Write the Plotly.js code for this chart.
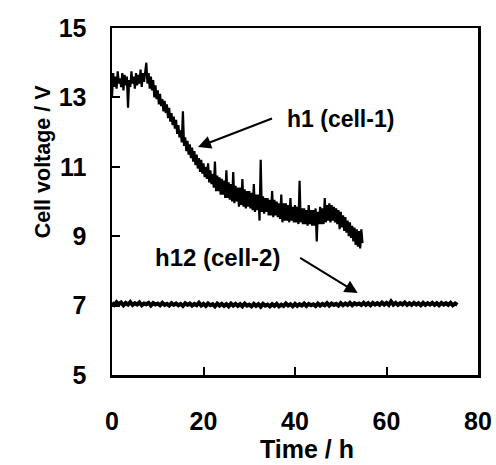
<!DOCTYPE html>
<html>
<head>
<meta charset="utf-8">
<script src="https://cdn.plot.ly/plotly-3.0.1.min.js"></script>
<style>html,body{margin:0;padding:0;background:#fff;}#chart{width:496px;height:465px;}</style>
</head>
<body>
<div id="chart"></div>
<script>
// Sampling of the recorded series (hours)
var h1Start = 0, h1Step = 0.25;
var h12Start = 0, h12Step = 0.5;

// h1 (cell-1) cell voltage / V, one reading every 0.25 h from t = 0 to 54.75 h (8 readings per row = 2 h)
var h1Voltage = [
  13.0, 13.7, 13.3, 13.6, 13.25, 13.75, 13.4, 13.55,
  13.3, 13.7, 13.2, 13.65, 13.35, 13.6, 12.7, 13.5,
  13.3, 13.75, 13.4, 13.6, 13.25, 13.7, 13.35, 13.65,
  13.4, 13.8, 13.3, 13.7, 13.45, 13.85, 14.0, 13.4,
  13.7, 13.25, 13.6, 13.2, 13.5, 13.0, 13.35, 12.95,
  13.2, 12.8, 13.1, 12.75, 12.95, 12.6, 12.9, 12.55,
  12.8, 12.4, 12.7, 12.3, 12.55, 12.2, 12.45, 12.1,
  12.35, 11.95, 12.2, 11.85, 12.05, 11.7, 12.6, 11.6,
  11.85, 11.45, 11.75, 11.35, 11.65, 11.25, 11.55, 11.15,
  11.45, 11.05, 11.35, 10.95, 11.25, 10.85, 11.2, 10.8,
  11.1, 10.7, 11.0, 10.65, 11.1, 10.55, 10.9, 10.5,
  10.8, 10.4, 11.15, 10.3, 10.75, 10.3, 10.7, 10.2,
  10.65, 10.2, 10.6, 10.1, 10.9, 10.1, 10.55, 10.05,
  10.5, 10.0, 10.85, 9.95, 10.45, 10.0, 10.4, 9.85,
  10.4, 9.9, 10.65, 9.85, 10.35, 9.8, 10.3, 9.85,
  10.3, 9.8, 10.25, 9.75, 10.5, 9.7, 10.2, 9.75,
  10.2, 9.45, 11.2, 9.7, 10.15, 9.65, 10.1, 9.7,
  10.1, 9.6, 10.05, 9.6, 10.3, 9.55, 10.05, 9.6,
  10.0, 9.55, 9.95, 9.5, 10.2, 9.4, 9.95, 9.45,
  9.95, 9.45, 9.9, 9.4, 10.1, 9.45, 9.85, 9.4,
  9.9, 9.4, 9.85, 9.35, 10.6, 9.4, 9.8, 9.35,
  9.8, 9.35, 9.75, 9.3, 9.9, 9.35, 9.75, 9.3,
  9.75, 9.3, 9.8, 8.85, 9.7, 9.35, 9.85, 9.35,
  9.8, 9.35, 10.1, 9.4, 9.9, 9.45, 9.95, 9.4,
  9.9, 9.45, 9.85, 9.4, 9.8, 9.35, 9.75, 9.2,
  9.7, 9.25, 9.6, 9.15, 9.55, 9.1, 9.45, 9.0,
  9.4, 8.95, 9.3, 8.85, 9.25, 8.75, 9.2, 8.7,
  9.15, 8.65, 9.2, 8.8
];

// h12 (cell-2) cell voltage / V, one reading every 0.5 h from t = 0 to 75.5 h
var h12Voltage = [
  7.08, 7.02, 7.10, 7.04, 7.09, 7.01, 7.08, 7.03, 7.10, 7.02,
  7.07, 7.03, 7.09, 7.01, 7.06, 7.04, 7.08, 7.00, 7.07, 7.03,
  7.06, 7.01, 7.08, 7.02, 7.05, 7.00, 7.07, 7.02, 7.06, 7.01,
  7.05, 6.99, 7.07, 7.02, 7.06, 7.00, 7.05, 7.01, 7.08, 7.00,
  7.05, 6.99, 7.06, 7.01, 7.04, 6.98, 7.06, 7.00, 7.05, 6.99,
  7.04, 6.98, 7.06, 7.00, 7.05, 6.99, 7.04, 6.98, 7.06, 7.00,
  7.03, 6.98, 7.05, 6.99, 7.04, 6.97, 7.05, 7.00, 7.03, 6.98,
  7.04, 6.99, 7.05, 6.98, 7.03, 6.99, 7.06, 7.00, 7.04, 6.98,
  7.05, 6.99, 7.04, 7.00, 7.06, 6.99, 7.05, 7.01, 7.04, 6.99,
  7.06, 7.00, 7.05, 7.01, 7.07, 7.00, 7.06, 7.02, 7.05, 7.00,
  7.07, 7.01, 7.06, 7.02, 7.08, 7.01, 7.07, 7.03, 7.06, 7.02,
  7.08, 7.02, 7.07, 7.01, 7.08, 7.03, 7.07, 7.02, 7.09, 7.03,
  7.08, 7.02, 7.12, 7.03, 7.08, 7.02, 7.07, 7.03, 7.09, 7.02,
  7.07, 7.02, 7.08, 7.03, 7.07, 7.01, 7.08, 7.02, 7.07, 7.03,
  7.08, 7.02, 7.07, 7.01, 7.08, 7.03, 7.07, 7.02, 7.08, 7.01,
  7.06, 7.02
];

// Axis ticks
var xTickVals = [0, 20, 40, 60, 80];
var xTickText = ['0', '20', '40', '60', '80'];
var yTickVals = [5, 7, 9, 11, 13, 15];
var yTickText = ['5', '7', '9', '11', '13', '15'];

// Labels
var labelH1 = 'h1 (cell-1)';
var labelH12 = 'h12 (cell-2)';
var xTitle = 'Time / h';
var yTitle = 'Cell voltage / V';

var fam = 'Liberation Sans, Arial, Helvetica, sans-serif';

var traces = [
  {
    type: 'scatter', mode: 'lines', name: labelH1,
    x0: h1Start, dx: h1Step, y: h1Voltage,
    line: {color: '#000', width: 2.2}, hoverinfo: 'skip'
  },
  {
    type: 'scatter', mode: 'lines', name: labelH12,
    x0: h12Start, dx: h12Step, y: h12Voltage,
    line: {color: '#000', width: 4}, hoverinfo: 'skip'
  }
];

var layout = {
  width: 496, height: 465,
  margin: {l: 112, r: 18, t: 28, b: 90, pad: 0},
  paper_bgcolor: '#fff', plot_bgcolor: '#fff',
  showlegend: false,
  font: {family: fam, color: '#000'},
  xaxis: {
    range: [0, 80], tickvals: xTickVals, ticktext: xTickText,
    ticks: 'inside', ticklen: 8, tickwidth: 2, tickcolor: '#000',
    showline: true, linewidth: 2.5, linecolor: '#000', mirror: true,
    showgrid: false, zeroline: false,
    tickfont: {family: fam, size: 25, weight: 'bold', color: '#000'},
    ticklabelstandoff: 22
  },
  yaxis: {
    range: [5, 15], tickvals: yTickVals, ticktext: yTickText,
    ticks: 'inside', ticklen: 8, tickwidth: 2, tickcolor: '#000',
    showline: true, linewidth: 2.5, linecolor: '#000', mirror: true,
    showgrid: false, zeroline: false,
    tickfont: {family: fam, size: 25, weight: 'bold', color: '#000'},
    ticklabelstandoff: 18
  },
  annotations: [
    {xref: 'x', yref: 'y', x: 37.9, y: 12.38, xanchor: 'left', yanchor: 'middle',
     text: labelH1, showarrow: false, font: {family: fam, size: 23, weight: 'bold', color: '#000'}},
    {xref: 'x', yref: 'y', x: 9.0, y: 8.4, xanchor: 'left', yanchor: 'middle',
     text: labelH12, showarrow: false, font: {family: fam, size: 24, weight: 'bold', color: '#000'}},
    {xref: 'x', yref: 'y', x: 18.8, y: 11.57, axref: 'x', ayref: 'y', ax: 35.3, ay: 12.41,
     text: '', showarrow: true, arrowhead: 2, arrowsize: 1.3, arrowwidth: 2, arrowcolor: '#000'},
    {xref: 'x', yref: 'y', x: 53.7, y: 7.36, axref: 'x', ayref: 'y', ax: 40.8, ay: 8.4,
     text: '', showarrow: true, arrowhead: 2, arrowsize: 1.3, arrowwidth: 2, arrowcolor: '#000'},
    {xref: 'paper', yref: 'paper', x: 0.534, y: -0.213, xanchor: 'center', yanchor: 'middle',
     text: xTitle, showarrow: false, font: {family: fam, size: 25, weight: 'bold', color: '#000'}},
    {xref: 'paper', yref: 'paper', x: -0.19, y: 0.617, xanchor: 'center', yanchor: 'middle',
     textangle: -90, text: yTitle, showarrow: false,
     font: {family: fam, size: 21.5, weight: 'bold', color: '#000'}}
  ]
};

Plotly.newPlot('chart', traces, layout, {staticPlot: true, displayModeBar: false});
</script>
</body>
</html>
